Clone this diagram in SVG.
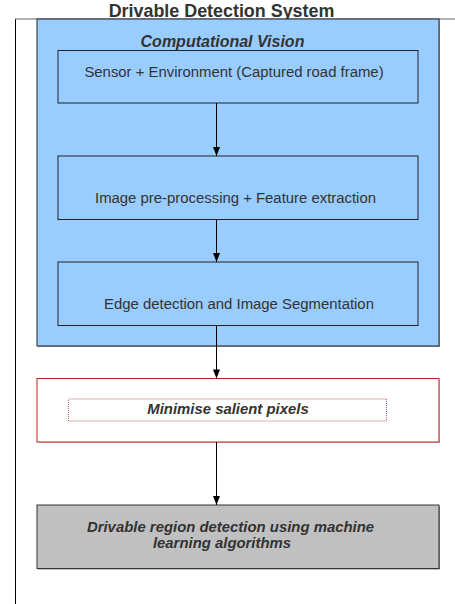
<svg xmlns="http://www.w3.org/2000/svg" width="455" height="604" viewBox="0 0 455 604">
<style>
.t{font-family:"Liberation Sans",Arial,sans-serif;fill:#333333;text-anchor:middle}
.reg{font-size:14.9px}
.bi{font-size:14.9px;font-weight:bold;font-style:italic}
.step{fill:#99ccff;stroke:#222222;stroke-width:1}
.line{stroke:#000000;stroke-width:1;fill:none}
.head{fill:#000000}
</style>
<g id="frame">
<line x1="15.5" y1="19" x2="15.5" y2="604" stroke="#000000"/>
<line x1="15" y1="19" x2="455" y2="19" stroke="#666666"/>
<text class="t" x="221.5" y="17" style="font-size:17.9px;font-weight:bold">Drivable Detection System</text>
</g>
<g id="vision">
<rect x="38" y="20" width="402" height="327" fill="#aaaaaa"/>
<rect x="37" y="19" width="402" height="327" fill="#99ccff" stroke="#222222"/>
<text class="t" x="222.5" y="46.5" style="font-size:16px;font-weight:bold;font-style:italic">Computational Vision</text>
</g>
<g id="sensor">
<rect class="step" x="58" y="50.5" width="360" height="52.5"/>
<text class="t reg" x="234" y="77">Sensor + Environment (Captured road frame)</text>
</g>
<g id="preprocess">
<rect class="step" x="58" y="156" width="360" height="63.5"/>
<text class="t reg" x="235.5" y="203">Image pre-processing + Feature extraction</text>
</g>
<g id="segmentation">
<rect class="step" x="58" y="262" width="360" height="63.5"/>
<text class="t reg" x="239" y="309.3">Edge detection and Image Segmentation</text>
</g>
<g id="minimise">
<rect x="38" y="379.5" width="402" height="63.5" fill="#e0c0c0"/>
<rect x="37" y="378.5" width="402" height="63.5" fill="#ffffff" stroke="#b22222"/>
<rect x="68.5" y="399" width="318" height="22" fill="none" stroke="#b86666" stroke-dasharray="1,1"/>
<text class="t bi" x="228" y="414.3">Minimise salient pixels</text>
</g>
<g id="drivable">
<rect x="38" y="506" width="402" height="63.5" fill="#888888"/>
<rect x="37" y="505" width="402" height="63.5" fill="#c0c0c0" stroke="#333333"/>
<text class="t bi" x="230.5" y="532.3">Drivable region detection using machine</text>
<text class="t bi" x="222" y="548.3">learning algorithms</text>
</g>
<g id="connectors">
<path class="line" d="M216.5,103 L216.5,156"/>
<path class="head" d="M213,147 L220,147 L216.5,156 Z"/>
<path class="line" d="M216.5,219.5 L216.5,262"/>
<path class="head" d="M213,253 L220,253 L216.5,262 Z"/>
<path class="line" d="M216.5,325.5 L216.5,378.5"/>
<path class="head" d="M213,369.5 L220,369.5 L216.5,378.5 Z"/>
<path class="line" d="M216.5,442 L216.5,505"/>
<path class="head" d="M213,496 L220,496 L216.5,505 Z"/>
</g>
</svg>
